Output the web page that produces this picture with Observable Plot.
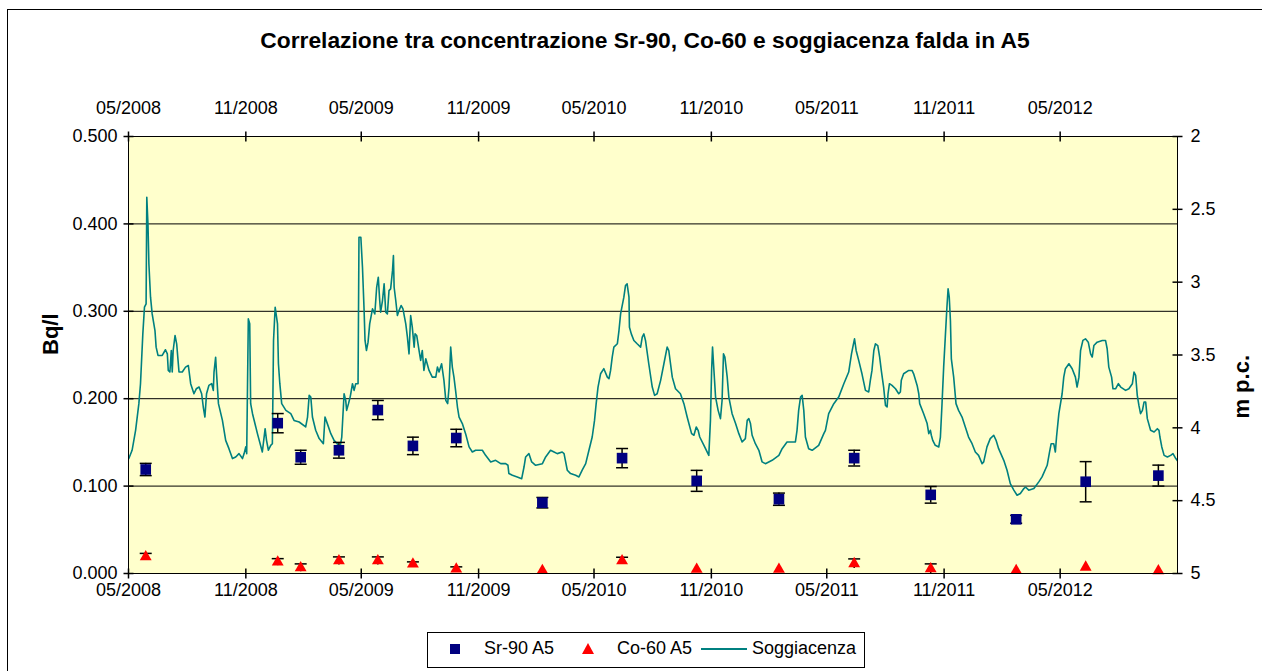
<!DOCTYPE html>
<html><head><meta charset="utf-8">
<script src="https://cdn.jsdelivr.net/npm/d3@7"></script>
<script src="https://cdn.jsdelivr.net/npm/@observablehq/plot@0.6"></script>
<style>
body{margin:0;width:1262px;height:671px;overflow:hidden;background:#fff;font-family:"Liberation Sans",Arial,sans-serif;position:relative;color:#000}
#frame{position:absolute;left:7px;top:9px;width:1300px;height:700px;border:1px solid #000;}
#title{position:absolute;left:0;width:1290px;top:28px;text-align:center;font-weight:bold;font-size:22.8px;line-height:25px;white-space:nowrap}
#chart{position:absolute;left:0;top:70px}
#legend{position:absolute;left:427px;top:632px;width:436px;height:34px;border:1px solid #000;background:#fff}
.lt{position:absolute;font-size:18px;line-height:18px;top:6px;white-space:nowrap}
.ls{position:absolute}
</style></head>
<body>
<div id="frame"></div>
<div id="title">Correlazione tra concentrazione Sr-90, Co-60 e soggiacenza falda in A5</div>
<div id="chart"></div>
<div id="legend">
  <svg class="ls" style="left:22px;top:11px" width="10" height="10"><rect width="10" height="10" fill="#000080"/></svg>
  <span class="lt" style="left:56px">Sr-90 A5</span>
  <svg class="ls" style="left:154px;top:10px" width="12" height="11"><path d="M6,0L12,11L0,11Z" fill="#FF0000"/></svg>
  <span class="lt" style="left:189px">Co-60 A5</span>
  <svg class="ls" style="left:273px;top:14px" width="46" height="4"><line x1="0" x2="46" y1="2" y2="2" stroke="#008080" stroke-width="2"/></svg>
  <span class="lt" style="left:324px">Soggiacenza</span>
</div>
<script>
// ---- data ----
const sampleDates = ["2008-05-28","2008-12-21","2009-01-26","2009-03-27","2009-05-27","2009-07-21","2009-09-27","2010-02-09","2010-06-14","2010-10-09","2011-02-15","2011-06-13","2011-10-11","2012-02-22","2012-06-10","2012-10-02"];
const sr90    = [0.119,0.172,0.133,0.141,0.187,0.146,0.155,0.081,0.132,0.106,0.085,0.132,0.090,0.062,0.105,0.112];
const sr90Err = [0.007,0.011,0.008,0.009,0.011,0.010,0.010,0.006,0.011,0.012,0.007,0.009,0.0095,0.0045,0.023,0.012];
const co60    = [0.019,0.013,0.0065,0.0144,0.0144,0.0108,0.005,0.0034,0.0144,0.0047,0.0047,0.0112,0.0053,0.0034,0.0072,0.003];
const co60Err = [0.004,0.004,0.0045,0.0046,0.0046,0.0025,0.0026,0,0.0042,0,0,0.0055,0.0057,0,0,0];
// groundwater depth (m p.c.) : [decimal year, depth]
const soggiacenza = [
[2008.332,4.211],[2008.346,4.154],[2008.361,4.017],[2008.375,3.834],[2008.382,3.697],[2008.392,3.355],[2008.399,3.172],[2008.406,3.149],[2008.409,2.418],[2008.414,2.601],
[2008.418,2.875],[2008.425,3.103],[2008.432,3.218],[2008.444,3.332],[2008.449,3.446],[2008.457,3.503],[2008.475,3.503],[2008.489,3.464],[2008.497,3.492],[2008.501,3.606],
[2008.508,3.617],[2008.514,3.469],[2008.518,3.617],[2008.522,3.469],[2008.530,3.366],[2008.537,3.423],[2008.547,3.617],[2008.561,3.617],[2008.575,3.583],[2008.587,3.572],
[2008.597,3.697],[2008.611,3.766],[2008.621,3.732],[2008.633,3.720],[2008.644,3.766],[2008.651,3.857],[2008.658,3.926],[2008.665,3.766],[2008.675,3.709],[2008.687,3.697],
[2008.694,3.743],[2008.697,3.617],[2008.704,3.515],[2008.708,3.629],[2008.716,3.834],[2008.733,3.949],[2008.747,4.086],[2008.761,4.143],[2008.776,4.211],[2008.790,4.200],
[2008.804,4.177],[2008.819,4.211],[2008.826,4.177],[2008.833,4.131],[2008.837,4.177],[2008.844,3.252],[2008.850,3.286],[2008.854,3.834],[2008.862,3.903],[2008.883,4.040],
[2008.904,4.166],[2008.916,4.006],[2008.922,4.086],[2008.930,4.154],[2008.940,4.120],[2008.947,4.109],[2008.952,3.400],[2008.959,3.172],[2008.969,3.286],[2008.973,3.560],
[2008.979,3.697],[2008.987,3.834],[2009.005,3.880],[2009.026,3.903],[2009.040,3.949],[2009.062,3.960],[2009.090,3.994],[2009.098,3.926],[2009.105,3.777],[2009.112,3.789],
[2009.119,3.926],[2009.133,4.017],[2009.148,4.074],[2009.166,4.109],[2009.173,3.926],[2009.183,3.971],[2009.198,4.040],[2009.212,4.086],[2009.226,4.109],[2009.234,4.166],
[2009.245,4.063],[2009.255,3.766],[2009.262,3.812],[2009.266,3.880],[2009.274,3.834],[2009.281,3.789],[2009.285,3.754],[2009.291,3.697],[2009.298,3.743],[2009.305,3.697],
[2009.315,3.697],[2009.319,2.692],[2009.327,2.692],[2009.334,2.898],[2009.341,3.195],[2009.345,3.400],[2009.351,3.469],[2009.358,3.412],[2009.365,3.286],[2009.377,3.183],
[2009.387,3.218],[2009.395,3.035],[2009.402,2.966],[2009.408,3.126],[2009.412,3.206],[2009.420,3.126],[2009.427,3.012],[2009.434,3.206],[2009.441,3.218],[2009.448,3.058],
[2009.455,3.046],[2009.463,2.921],[2009.467,2.818],[2009.470,3.035],[2009.477,3.126],[2009.484,3.229],[2009.491,3.195],[2009.500,3.160],[2009.508,3.183],[2009.520,3.286],
[2009.527,3.377],[2009.534,3.492],[2009.541,3.229],[2009.548,3.309],[2009.556,3.446],[2009.560,3.355],[2009.567,3.366],[2009.577,3.469],[2009.584,3.537],[2009.591,3.469],
[2009.598,3.606],[2009.606,3.526],[2009.620,3.606],[2009.634,3.652],[2009.649,3.652],[2009.656,3.583],[2009.663,3.617],[2009.674,3.560],[2009.684,3.674],[2009.692,3.812],
[2009.700,3.834],[2009.706,3.720],[2009.713,3.446],[2009.720,3.583],[2009.727,3.652],[2009.734,3.743],[2009.742,3.857],[2009.749,3.926],[2009.763,3.971],[2009.777,4.040],
[2009.792,4.131],[2009.806,4.166],[2009.820,4.154],[2009.849,4.154],[2009.863,4.189],[2009.885,4.234],[2009.906,4.223],[2009.928,4.246],[2009.949,4.246],[2009.959,4.257],
[2009.963,4.314],[2009.978,4.326],[2009.999,4.337],[2010.018,4.349],[2010.028,4.269],[2010.035,4.200],[2010.049,4.177],[2010.061,4.234],[2010.078,4.257],[2010.107,4.246],
[2010.121,4.200],[2010.142,4.154],[2010.157,4.166],[2010.171,4.177],[2010.192,4.166],[2010.200,4.177],[2010.214,4.291],[2010.228,4.314],[2010.250,4.326],[2010.264,4.337],
[2010.278,4.291],[2010.293,4.246],[2010.307,4.154],[2010.321,4.063],[2010.331,3.949],[2010.338,3.834],[2010.346,3.720],[2010.357,3.629],[2010.371,3.594],[2010.386,3.652],
[2010.393,3.663],[2010.400,3.606],[2010.407,3.514],[2010.414,3.446],[2010.429,3.423],[2010.436,3.332],[2010.443,3.218],[2010.457,3.103],[2010.464,3.023],[2010.471,3.012],
[2010.479,3.103],[2010.481,3.309],[2010.489,3.355],[2010.500,3.400],[2010.514,3.423],[2010.529,3.446],[2010.536,3.377],[2010.543,3.355],[2010.550,3.400],[2010.564,3.560],
[2010.579,3.720],[2010.589,3.777],[2010.600,3.766],[2010.615,3.674],[2010.629,3.560],[2010.643,3.446],[2010.650,3.469],[2010.665,3.652],[2010.679,3.732],[2010.700,3.766],
[2010.715,3.834],[2010.729,3.926],[2010.748,4.040],[2010.758,4.051],[2010.768,3.994],[2010.776,4.017],[2010.783,4.063],[2010.801,4.120],[2010.822,4.189],[2010.829,3.949],
[2010.834,3.606],[2010.838,3.446],[2010.844,3.606],[2010.851,3.789],[2010.862,3.880],[2010.872,3.937],[2010.879,3.812],[2010.885,3.492],[2010.891,3.514],[2010.901,3.652],
[2010.908,3.789],[2010.922,3.903],[2010.937,3.971],[2010.951,4.040],[2010.965,4.097],[2010.979,4.074],[2010.987,3.949],[2010.994,3.937],[2011.001,3.971],[2011.008,4.051],
[2011.022,4.109],[2011.037,4.154],[2011.051,4.234],[2011.065,4.246],[2011.094,4.223],[2011.123,4.189],[2011.137,4.143],[2011.158,4.097],[2011.194,4.097],[2011.201,4.017],
[2011.208,3.880],[2011.216,3.789],[2011.223,3.777],[2011.230,3.880],[2011.237,4.063],[2011.251,4.143],[2011.266,4.154],[2011.294,4.120],[2011.316,4.040],[2011.323,4.017],
[2011.337,3.903],[2011.359,3.834],[2011.380,3.789],[2011.402,3.697],[2011.423,3.617],[2011.435,3.492],[2011.442,3.435],[2011.448,3.389],[2011.455,3.469],[2011.466,3.537],
[2011.480,3.629],[2011.495,3.743],[2011.509,3.754],[2011.516,3.674],[2011.523,3.606],[2011.531,3.469],[2011.538,3.423],[2011.548,3.435],[2011.556,3.514],[2011.563,3.606],
[2011.573,3.720],[2011.581,3.846],[2011.588,3.857],[2011.592,3.766],[2011.598,3.697],[2011.609,3.709],[2011.624,3.732],[2011.638,3.766],[2011.645,3.754],[2011.649,3.674],
[2011.659,3.629],[2011.681,3.606],[2011.695,3.606],[2011.702,3.629],[2011.717,3.709],[2011.724,3.766],[2011.728,3.834],[2011.745,3.903],[2011.760,3.971],[2011.767,4.040],
[2011.774,4.017],[2011.778,4.051],[2011.784,4.086],[2011.795,4.120],[2011.810,4.131],[2011.817,4.063],[2011.824,3.834],[2011.831,3.583],[2011.838,3.377],[2011.845,3.172],
[2011.850,3.046],[2011.855,3.103],[2011.860,3.263],[2011.864,3.526],[2011.874,3.652],[2011.884,3.834],[2011.895,3.880],[2011.910,3.926],[2011.924,3.994],[2011.938,4.063],
[2011.953,4.109],[2011.967,4.166],[2011.981,4.189],[2011.996,4.246],[2012.003,4.234],[2012.017,4.131],[2012.031,4.074],[2012.046,4.051],[2012.056,4.086],[2012.067,4.143],
[2012.089,4.223],[2012.103,4.291],[2012.117,4.383],[2012.132,4.428],[2012.146,4.463],[2012.160,4.451],[2012.175,4.417],[2012.182,4.406],[2012.196,4.428],[2012.218,4.417],
[2012.239,4.371],[2012.253,4.337],[2012.275,4.257],[2012.285,4.166],[2012.292,4.109],[2012.303,4.109],[2012.310,4.166],[2012.315,4.063],[2012.325,3.903],[2012.339,3.766],
[2012.346,3.652],[2012.353,3.594],[2012.368,3.560],[2012.382,3.594],[2012.396,3.652],[2012.403,3.720],[2012.411,3.652],[2012.418,3.469],[2012.428,3.400],[2012.439,3.389],
[2012.451,3.412],[2012.461,3.492],[2012.468,3.514],[2012.475,3.435],[2012.489,3.412],[2012.511,3.400],[2012.525,3.400],[2012.532,3.457],[2012.539,3.583],[2012.551,3.652],
[2012.557,3.732],[2012.568,3.732],[2012.580,3.697],[2012.590,3.720],[2012.611,3.743],[2012.625,3.732],[2012.640,3.697],[2012.647,3.617],[2012.654,3.640],[2012.661,3.777],
[2012.668,3.846],[2012.675,3.903],[2012.683,3.880],[2012.690,3.823],[2012.697,3.823],[2012.704,3.937],[2012.718,4.017],[2012.733,4.029],[2012.747,4.006],[2012.754,4.017],
[2012.758,4.063],[2012.766,4.131],[2012.776,4.189],[2012.790,4.200],[2012.804,4.189],[2012.814,4.177],[2012.826,4.211],[2012.840,4.240]
];
const xTickDates = ["2008-05-01","2008-11-01","2009-05-01","2009-11-01","2010-05-01","2010-11-01","2011-05-01","2011-11-01","2012-05-01"];
const xDomain = ["2008-05-01","2012-11-01"];
const leftTicks = [0,0.1,0.2,0.3,0.4,0.5];
const gridTicks = [0.1,0.2,0.3,0.4];
const depthTicks = [2,2.5,3,3.5,4,4.5,5];
const depthRange = [2,5];

// ---- helpers ----
const parse = s => new Date(s + "T00:00:00Z");
const yearToDate = v => { const y = Math.floor(v); const s = Date.UTC(y,0,1), e = Date.UTC(y+1,0,1); return new Date(s + (v - y) * (e - s)); };
const depthToY = d => (depthRange[1] - d) / (depthRange[1] - depthRange[0]) * 0.5;
const yToDepth = v => depthRange[1] - v / 0.5 * (depthRange[1] - depthRange[0]);
const hline = {draw(ctx, size){ const r = Math.sqrt(size/Math.PI); ctx.moveTo(-r,0); ctx.lineTo(r,0); }};
const vline = {draw(ctx, size){ const r = Math.sqrt(size/Math.PI); ctx.moveTo(0,-r); ctx.lineTo(0,r); }};

const idx = d3.range(sampleDates.length);
const sd = idx.map(i => parse(sampleDates[i]));
const xt = xTickDates.map(parse);
const fmtDate = d3.utcFormat("%m/%Y");

const chart = Plot.plot({
  width: 1262, height: 540,
  marginLeft: 128, marginRight: 85, marginTop: 66, marginBottom: 37,
  style: {fontFamily: '"Liberation Sans", Arial, sans-serif', fontSize: "18px", background: "transparent", color: "#000", overflow: "visible"},
  x: {type: "utc", domain: xDomain.map(parse)},
  y: {domain: [0, 0.5]},
  marks: [
    Plot.frame({fill: "#FFFFCC", stroke: null}),
    Plot.gridY(gridTicks, {stroke: "#000", strokeOpacity: 1, strokeWidth: 1}),
    Plot.line(soggiacenza, {x: d => yearToDate(d[0]), y: d => depthToY(d[1]), stroke: "#008080", strokeWidth: 1.6, clip: true}),
    // error bars
    Plot.ruleX(idx, {x: i => sd[i], y1: i => sr90[i] - sr90Err[i], y2: i => sr90[i] + sr90Err[i], stroke: "#000", strokeWidth: 1.5}),
    Plot.dot(idx, {x: i => sd[i], y: i => sr90[i] + sr90Err[i], symbol: hline, r: 6, stroke: "#000", strokeWidth: 1.5}),
    Plot.dot(idx, {x: i => sd[i], y: i => sr90[i] - sr90Err[i], symbol: hline, r: 6, stroke: "#000", strokeWidth: 1.5}),
    Plot.ruleX(idx.filter(i => co60Err[i] > 0), {x: i => sd[i], y1: i => co60[i] - co60Err[i], y2: i => co60[i] + co60Err[i], stroke: "#000", strokeWidth: 1.5}),
    Plot.dot(idx.filter(i => co60Err[i] > 0), {x: i => sd[i], y: i => co60[i] + co60Err[i], symbol: hline, r: 6, stroke: "#000", strokeWidth: 1.5}),
    // markers
    Plot.dot(idx, {x: i => sd[i], y: i => sr90[i], symbol: "square", r: 6, fill: "#000080", stroke: null}),
    Plot.dot(idx, {x: i => sd[i], y: i => co60[i], symbol: "triangle", r: 4.4, fill: "#FF0000", stroke: null}),
    Plot.frame({stroke: "#000", strokeWidth: 1}),
    // crossing ticks
    Plot.dot(xt, {x: d => d, frameAnchor: "top", symbol: vline, r: 5, stroke: "#000"}),
    Plot.dot(xt, {x: d => d, frameAnchor: "bottom", symbol: vline, r: 5, stroke: "#000"}),
    Plot.dot(leftTicks, {y: d => d, frameAnchor: "left", symbol: hline, r: 5, stroke: "#000"}),
    Plot.dot(depthTicks, {y: d => depthToY(d), frameAnchor: "right", symbol: hline, r: 5, stroke: "#000"}),
    // axes
    Plot.axisX({anchor: "bottom", ticks: xt, tickFormat: fmtDate, tickSize: 0, tickPadding: 10, label: null}),
    Plot.axisX({anchor: "top", ticks: xt, tickFormat: fmtDate, tickSize: 0, tickPadding: 23, label: null}),
    Plot.axisY({anchor: "left", ticks: leftTicks, tickFormat: d3.format(".3f"), tickSize: 0, tickPadding: 11, label: null}),
    Plot.axisY({anchor: "right", ticks: depthTicks.map(depthToY), tickFormat: v => String(Math.round(yToDepth(v) * 100) / 100), tickSize: 0, tickPadding: 13, label: null}),
    Plot.text(["Bq/l"], {frameAnchor: "left", dx: -78, rotate: -90, fontWeight: "bold", fontSize: 22}),
    Plot.text(["m p.c."], {frameAnchor: "right", dx: 64, rotate: -90, fontWeight: "bold", fontSize: 22})
  ]
});
document.getElementById("chart").appendChild(chart);
</script>
</body></html>
